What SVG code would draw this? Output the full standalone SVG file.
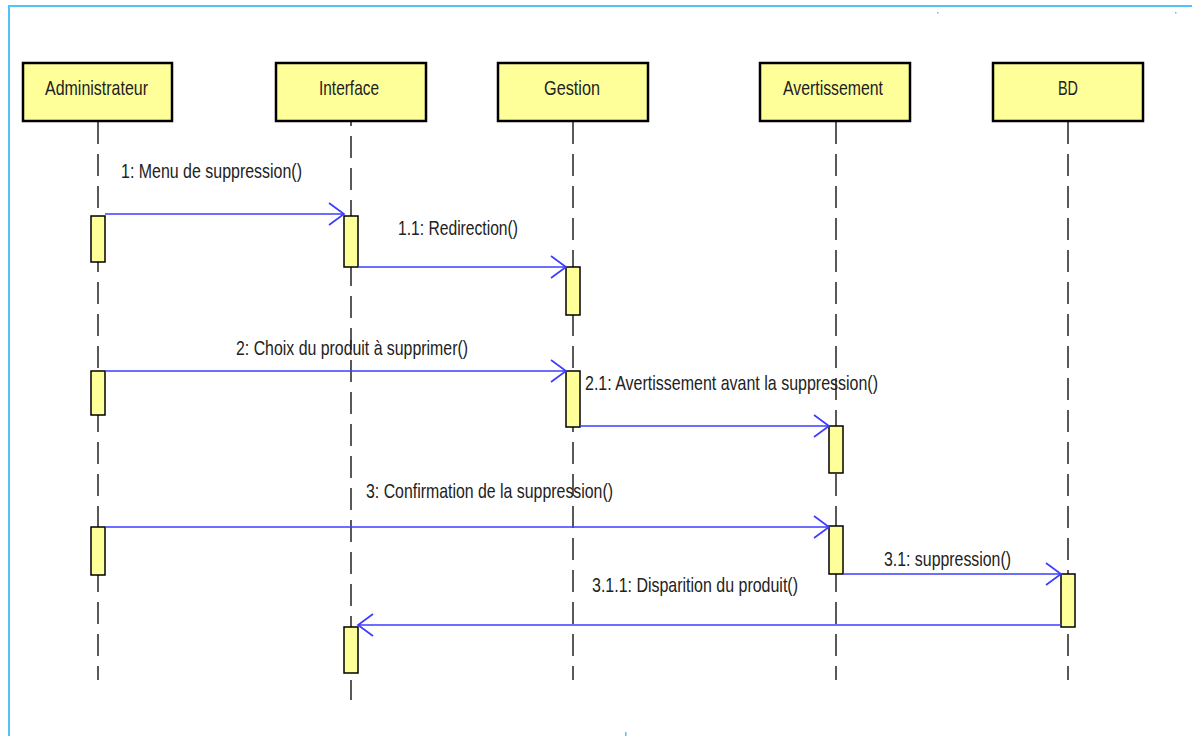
<svg xmlns="http://www.w3.org/2000/svg" width="1192" height="736" viewBox="0 0 1192 736">
<style>
.frame{stroke:#4fc3f7;stroke-width:2;fill:none}
.head{fill:#ffff99;stroke:#000;stroke-width:2.5}
.act{fill:#ffff99;stroke:#000;stroke-width:1.5}
.life{stroke:#000;stroke-width:1.3;stroke-dasharray:22 10;fill:none}
.msg{stroke:#3c3cff;stroke-width:1.7;fill:none;marker-end:url(#open)}
text{font-family:"Liberation Sans",Arial,sans-serif;font-size:21px;fill:#222}
</style>
<defs>
<marker id="open" markerUnits="userSpaceOnUse" viewBox="-18 -14 20 28" markerWidth="20" markerHeight="28" refX="0" refY="0" orient="auto">
<path d="M-15,-11 L0,0 L-15,11" fill="none" stroke="#3c3cff" stroke-width="1.7"/>
</marker>
</defs>
<rect width="1192" height="736" fill="#fff"/>
<path class="frame" d="M9,736 V6 H1192"/>
<rect x="937" y="12" width="1.5" height="1.5" fill="#4fc3f7"/>
<rect x="1175" y="12" width="1.5" height="1.5" fill="#4fc3f7"/>
<rect x="625" y="732" width="1.5" height="4" fill="#4fc3f7"/>

<g id="administrateur">
<line class="life" x1="98" y1="122" x2="98" y2="680"/>
<rect class="head" x="23" y="63" width="149" height="58"/>
<text x="45" y="95" textLength="103" lengthAdjust="spacingAndGlyphs">Administrateur</text>
<rect class="act" x="91" y="216" width="14" height="46"/>
<rect class="act" x="91" y="371" width="14" height="44"/>
<rect class="act" x="91" y="527" width="14" height="48"/>
</g>
<g id="interface">
<line class="life" x1="351" y1="122" x2="351" y2="700" stroke-dashoffset="18"/>
<rect class="head" x="276" y="63" width="150" height="58"/>
<text x="319" y="95" textLength="60" lengthAdjust="spacingAndGlyphs">Interface</text>
<rect class="act" x="344" y="216" width="14" height="51"/>
<rect class="act" x="344" y="627" width="14" height="46"/>
</g>
<g id="gestion">
<line class="life" x1="573" y1="122" x2="573" y2="680"/>
<rect class="head" x="498" y="63" width="150" height="58"/>
<text x="544" y="95" textLength="56" lengthAdjust="spacingAndGlyphs">Gestion</text>
<rect class="act" x="566" y="267" width="14" height="48"/>
<rect class="act" x="566" y="371" width="14" height="56"/>
</g>
<g id="avertissement">
<line class="life" x1="836" y1="122" x2="836" y2="680"/>
<rect class="head" x="760" y="63" width="150" height="58"/>
<text x="783" y="95" textLength="100" lengthAdjust="spacingAndGlyphs">Avertissement</text>
<rect class="act" x="829" y="426" width="14" height="47"/>
<rect class="act" x="829" y="526" width="14" height="48"/>
</g>
<g id="bd">
<line class="life" x1="1068" y1="122" x2="1068" y2="680"/>
<rect class="head" x="993" y="63" width="150" height="58"/>
<text x="1058" y="95" textLength="20" lengthAdjust="spacingAndGlyphs">BD</text>
<rect class="act" x="1061" y="574" width="14" height="53"/>
</g>

<g id="connectors">
<line class="msg" x1="105" y1="214" x2="344" y2="214"/>
<text x="121" y="178" textLength="181" lengthAdjust="spacingAndGlyphs">1: Menu de suppression()</text>
<line class="msg" x1="358" y1="267" x2="566" y2="267"/>
<text x="398" y="235" textLength="120" lengthAdjust="spacingAndGlyphs">1.1: Redirection()</text>
<line class="msg" x1="105" y1="371" x2="566" y2="371"/>
<text x="236" y="355" textLength="232" lengthAdjust="spacingAndGlyphs">2: Choix du produit à supprimer()</text>
<line class="msg" x1="580" y1="426" x2="829" y2="426"/>
<text x="585" y="390" textLength="293" lengthAdjust="spacingAndGlyphs">2.1: Avertissement avant la suppression()</text>
<line class="msg" x1="105" y1="527" x2="829" y2="527"/>
<text x="366" y="498" textLength="247" lengthAdjust="spacingAndGlyphs">3: Confirmation de la suppression()</text>
<line class="msg" x1="843" y1="574" x2="1061" y2="574"/>
<text x="884" y="566" textLength="127" lengthAdjust="spacingAndGlyphs">3.1: suppression()</text>
<line class="msg" x1="1061" y1="625" x2="358" y2="625"/>
<text x="592" y="592" textLength="206" lengthAdjust="spacingAndGlyphs">3.1.1: Disparition du produit()</text>
</g>
</svg>
